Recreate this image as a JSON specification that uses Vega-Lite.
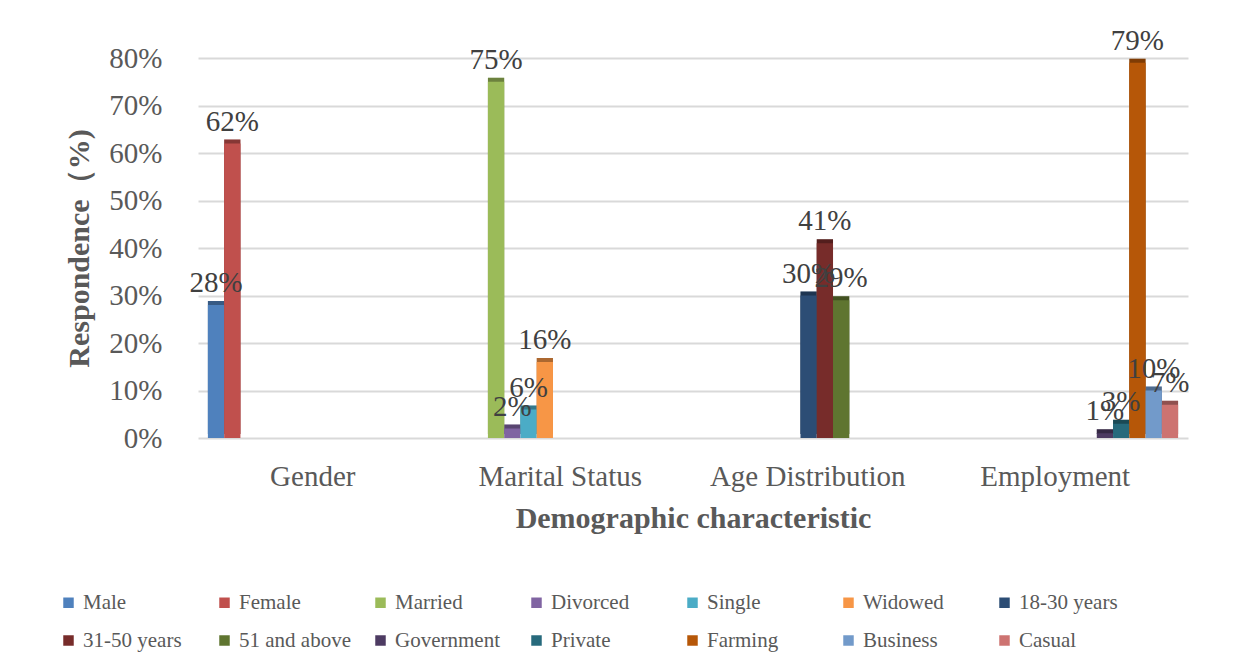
{
  "$schema": "https://vega.github.io/schema/vega-lite/v6.json",
  "autosize": "none",
  "width": 990,
  "height": 380,
  "padding": {"left": 198, "top": 58, "right": 56, "bottom": 232},
  "background": "white",
  "config": {
    "font": "Liberation Serif",
    "view": {"stroke": null},
    "axis": {"labelFont": "Liberation Serif", "titleFont": "Liberation Serif", "labelColor": "#595959", "titleColor": "#595959"},
    "legend": {"labelFont": "Liberation Serif", "titleFont": "Liberation Serif", "labelFontSize": 21, "labelColor": "#595959", "symbolSize": 110, "symbolType": "square"}
  },
  "data": {
    "values": [
      {"category": "Gender", "series": "Male", "value": 0.28},
      {"category": "Gender", "series": "Female", "value": 0.62},
      {"category": "Marital Status", "series": "Married", "value": 0.75},
      {"category": "Marital Status", "series": "Divorced", "value": 0.02},
      {"category": "Marital Status", "series": "Single", "value": 0.06},
      {"category": "Marital Status", "series": "Widowed", "value": 0.16},
      {"category": "Age Distribution", "series": "18-30 years", "value": 0.30},
      {"category": "Age Distribution", "series": "31-50 years", "value": 0.41},
      {"category": "Age Distribution", "series": "51 and above", "value": 0.29},
      {"category": "Employment", "series": "Government", "value": 0.01},
      {"category": "Employment", "series": "Private", "value": 0.03},
      {"category": "Employment", "series": "Farming", "value": 0.79},
      {"category": "Employment", "series": "Business", "value": 0.10},
      {"category": "Employment", "series": "Casual", "value": 0.07}
    ]
  },
  "encoding": {
    "x": {
      "field": "category", "type": "nominal",
      "sort": ["Gender", "Marital Status", "Age Distribution", "Employment"],
      "scale": {"paddingInner": 0.08, "paddingOuter": 0.04},
      "axis": {"title": "Demographic characteristic", "labelAngle": 0, "labelFontSize": 29, "labelLimit": 0, "labelPadding": 24, "labelOffset": -9, "ticks": false, "domain": false, "titleFontSize": 30, "titleFontWeight": "bold", "titlePadding": 12}
    },
    "xOffset": {
      "field": "series", "type": "nominal",
      "scale": {"domain": ["Male", "Female", "Married", "Divorced", "Single", "Widowed", "18-30 years", "31-50 years", "51 and above", "Government", "Private", "Farming", "Business", "Casual"], "paddingInner": 0, "paddingOuter": 0}
    },
    "y": {
      "field": "value", "type": "quantitative",
      "scale": {"domain": [0, 0.8]},
      "axis": {"title": "Respondence（%)", "format": ".0%", "values": [0, 0.1, 0.2, 0.3, 0.4, 0.5, 0.6, 0.7, 0.8], "labelOverlap": false, "labelFontSize": 29, "labelPadding": 36, "ticks": false, "domain": false, "gridColor": "#d9d9d9", "gridWidth": 2, "titleFontSize": 30, "titleFontWeight": "bold", "titlePadding": 14}
    }
  },
  "layer": [
    {
      "mark": {"type": "bar", "yOffset": -4},
      "encoding": {
        "color": {"field": "series", "type": "nominal",
          "scale": {"domain": ["Male", "Female", "Married", "Divorced", "Single", "Widowed", "18-30 years", "31-50 years", "51 and above", "Government", "Private", "Farming", "Business", "Casual"],
            "range": ["#4F81BD", "#C0504D", "#9BBB59", "#8064A2", "#4BACC6", "#F79646", "#2C4D75", "#772C2A", "#5F7530", "#4D3B62", "#276A7C", "#B65708", "#729ACA", "#CD7371"]},
          "legend": {"orient": "none", "legendX": -140, "legendY": 534, "direction": "horizontal", "columns": 7, "title": null, "symbolType": "square", "symbolSize": 110, "symbolStrokeWidth": 0, "symbolOpacity": 1, "labelFontSize": 21, "labelColor": "#595959", "labelFont": "Liberation Serif", "gridAlign": "all", "columnPadding": 19, "rowPadding": 16, "labelOffset": 4}
        }
      }
    },
    {
      "mark": {"type": "bar", "yOffset": -4, "color": "black", "opacity": 0.3},
      "encoding": {}
    },
    {
      "mark": {"type": "bar"},
      "encoding": {
        "color": {"field": "series", "type": "nominal",
          "legend": {"orient": "none", "legendX": -140, "legendY": 534, "direction": "horizontal", "columns": 7, "title": null, "symbolType": "square", "symbolSize": 110, "symbolStrokeWidth": 0, "symbolOpacity": 1, "labelFontSize": 21, "labelColor": "#595959", "labelFont": "Liberation Serif", "gridAlign": "all", "columnPadding": 19, "rowPadding": 16, "labelOffset": 4}
        }
      }
    },
    {
      "mark": {"type": "text", "baseline": "bottom", "dy": -7, "fontSize": 29, "color": "#404040", "font": "Liberation Serif"},
      "encoding": {"text": {"field": "value", "type": "quantitative", "format": ".0%"}}
    }
  ]
}
